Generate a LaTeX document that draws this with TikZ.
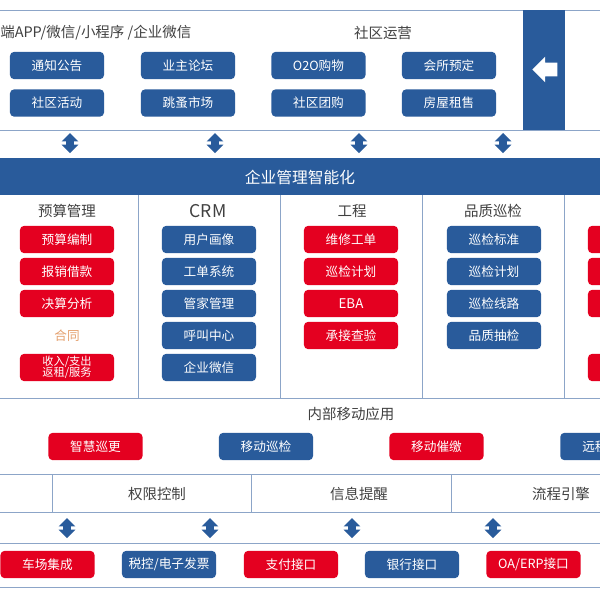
\documentclass[tikz,border=0pt]{standalone}
\usepackage{fontspec}
\setmainfont{Noto Sans CJK SC}
\usetikzlibrary{shapes.arrows}

\definecolor{bluefill}{RGB}{41,91,155}
\definecolor{redfill}{RGB}{228,0,32}
\definecolor{linec}{RGB}{140,165,200}
\definecolor{textgray}{RGB}{64,64,64}
\definecolor{tan}{RGB}{228,160,110}

\tikzset{
  frame/.style={draw=linec, line width=0.7pt},
  bluebox/.style={fill=bluefill, text=white, rounded corners=0.1cm, inner sep=0pt,
    minimum width=2.35cm, minimum height=0.68cm, font=\fontsize{9}{10}\selectfont},
  redbox/.style={bluebox, fill=redfill},
  title/.style={text=textgray, inner sep=0pt, font=\fontsize{10.3}{12}\selectfont},
  updown/.style={double arrow, rotate=90, fill=bluefill, inner xsep=0pt, inner ysep=0.0875cm,
    minimum height=0.5cm, minimum width=0.4cm, double arrow head extend=0.1125cm}
}

\begin{document}
\begin{tikzpicture}[x=0.025cm,y=-0.025cm]
\useasboundingbox (0,0) rectangle (600,600);
\clip (0,0) rectangle (600,600);

% top frame
\draw[frame] (0,10) -- (600,10);
\draw[frame] (0,130) -- (600,130);
\fill[bluefill] (523,10) rectangle (565,130);
\node[single arrow, fill=white, shape border rotate=180, anchor=tip, inner xsep=0pt, inner ysep=0.1625cm,
  minimum height=0.625cm, minimum width=0.625cm, single arrow head extend=0.15cm] (back) at (532,69.5) {};

\node[title, anchor=west] (apptitle) at (0,33) {端APP/微信/小程序 /企业微信};
\node[title] (optitle) at (383,33) {社区运营};

\node[bluebox] (t1) at (57,65.5) {通知公告};
\node[bluebox] (t2) at (188,65.5) {业主论坛};
\node[bluebox] (t3) at (318.5,65.5) {O2O购物};
\node[bluebox] (t4) at (449,65.5) {会所预定};
\node[bluebox] (t5) at (57,103) {社区活动};
\node[bluebox] (t6) at (188,103) {跳蚤市场};
\node[bluebox] (t7) at (318.5,103) {社区团购};
\node[bluebox] (t8) at (449,103) {房屋租售};

\node[updown] (a1) at (70,143) {};
\node[updown] (a2) at (215,143) {};
\node[updown] (a3) at (359,143) {};
\node[updown] (a4) at (503,143) {};

% management bar
\fill[bluefill] (0,158) rectangle (600,195);
\node[text=white, font=\fontsize{11.2}{13}\selectfont] (bar) at (300,177) {企业管理智能化};

\draw[frame] (138,195) -- (138,398);
\draw[frame] (280,195) -- (280,398);
\draw[frame] (422,195) -- (422,398);
\draw[frame] (564,195) -- (564,398);
\draw[frame] (0,398) -- (600,398);

\node[title] (ys) at (67,211) {预算管理};
\node[title, font=\fontsize{12.5}{14}\selectfont] (crm) at (208,211) {CRM};
\node[title] (gc) at (352,211) {工程};
\node[title] (pz) at (493,211) {品质巡检};

\node[redbox] (ys1) at (67,239.5) {预算编制};
\node[redbox] (ys2) at (67,271.5) {报销借款};
\node[redbox] (ys3) at (67,303.5) {决算分析};
\node[text=tan, inner sep=0pt, font=\fontsize{9}{10}\selectfont] (ht) at (67,336) {合同};
\node[redbox, align=center, font=\fontsize{8}{8.2}\selectfont] (ys5) at (67,367.5) {收入/支出\\返租/服务};

\node[bluebox] (crm1) at (209,239.5) {用户画像};
\node[bluebox] (crm2) at (209,271.5) {工单系统};
\node[bluebox] (crm3) at (209,303.5) {管家管理};
\node[bluebox] (crm4) at (209,335.5) {呼叫中心};
\node[bluebox] (crm5) at (209,367.5) {企业微信};

\node[redbox] (gc1) at (351,239.5) {维修工单};
\node[redbox] (gc2) at (351,271.5) {巡检计划};
\node[redbox, font=\fontsize{9.5}{10}\selectfont] (gc3) at (351,303.5) {EBA};
\node[redbox] (gc4) at (351,335.5) {承接查验};

\node[bluebox] (pz1) at (494,239.5) {巡检标准};
\node[bluebox] (pz2) at (494,271.5) {巡检计划};
\node[bluebox] (pz3) at (494,303.5) {巡检线路};
\node[bluebox] (pz4) at (494,335.5) {品质抽检};

\node[redbox] (x1) at (635,239.5) {};
\node[redbox] (x2) at (635,271.5) {};
\node[redbox] (x3) at (635,303.5) {};
\node[redbox] (x5) at (635,367.5) {};

% mobile apps
\node[title] (mtitle) at (351,414) {内部移动应用};
\node[redbox] (m1) at (95.5,446.5) {智慧巡更};
\node[bluebox] (m2) at (266,446.5) {移动巡检};
\node[redbox] (m3) at (436.5,446.5) {移动催缴};
\node[bluebox, anchor=west, align=left, text width=1.8cm, inner xsep=0.55cm] (m4) at (560,446.5) {远程};

% platform row
\draw[frame] (0,474) -- (600,474);
\draw[frame] (0,512) -- (600,512);
\draw[frame] (52,474) -- (52,512);
\draw[frame] (251,474) -- (251,512);
\draw[frame] (451,474) -- (451,512);
\node[title] (qx) at (157,494) {权限控制};
\node[title] (xx) at (359,494) {信息提醒};
\node[title] (lc) at (561,494) {流程引擎};

\node[updown] (b1) at (67,528) {};
\node[updown] (b2) at (210,528) {};
\node[updown] (b3) at (352,528) {};
\node[updown] (b4) at (493,528) {};

% interfaces
\draw[frame] (0,543) -- (600,543);
\draw[frame] (0,587) -- (600,587);
\node[redbox] (i1) at (47.5,564.5) {车场集成};
\node[bluebox] (i2) at (169,564.5) {税控/电子发票};
\node[redbox] (i3) at (291,564.5) {支付接口};
\node[bluebox] (i4) at (412,564.5) {银行接口};
\node[redbox] (i5) at (533.5,564.5) {OA/ERP接口};

\end{tikzpicture}
\end{document}
